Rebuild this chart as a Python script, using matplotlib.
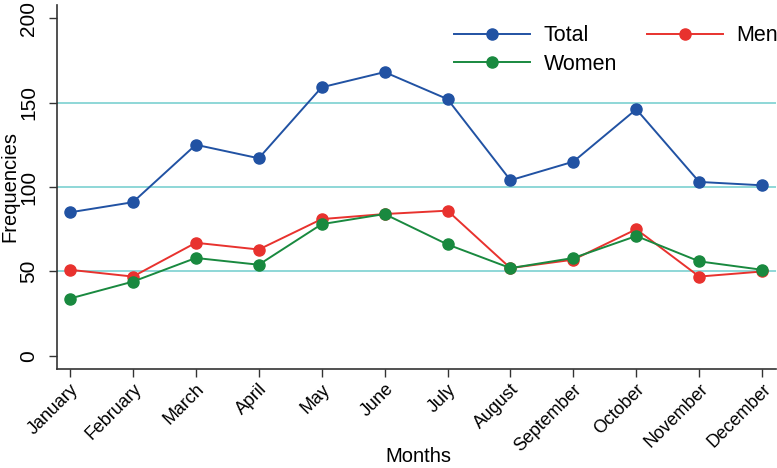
import matplotlib.pyplot as plt

plt.rcParams['font.family'] = ['Liberation Sans', 'DejaVu Sans']

meses = ["January", "February", "March", "April", "May", "June", "July",
         "August", "September", "October", "November", "December"]
total = [85, 91, 125, 117, 159, 168, 152, 104, 115, 146, 103, 101]
homens = [51, 47, 67, 63, 81, 84, 86, 52, 57, 75, 47, 50]
mulheres = [34, 44, 58, 54, 78, 84, 66, 52, 58, 71, 56, 51]
yticks = [0, 50, 100, 150, 200]

AZUL = "#2152a3"
VERMELHO = "#e8322e"
VERDE = "#19893f"
GRADE = "#86d4d4"

fig = plt.figure(figsize=(7.77, 4.68), dpi=100)
ax = fig.add_axes([57 / 777, 1 - 369 / 468, 719 / 777, 364 / 468])

x = range(len(meses))
for y in [50, 100, 150]:
    ax.axhline(y, color=GRADE, lw=1.3, zorder=0)

l_total, = ax.plot(x, total, '-o', color=AZUL, lw=1.4, ms=8, label="Total")
l_men, = ax.plot(x, homens, '-o', color=VERMELHO, lw=1.4, ms=8, label="Men")
l_women, = ax.plot(x, mulheres, '-o', color=VERDE, lw=1.4, ms=8, label="Women")

ax.set_xlim(-0.206, 11.22)
ax.set_ylim(-7.7, 207.7)
ax.set_xticks(list(x))
ax.set_xticklabels(meses, rotation=45, ha='right', rotation_mode='anchor', fontsize=12.9)
ax.set_yticks(yticks)
ax.set_yticklabels([str(v) for v in yticks], rotation=90, va='center', fontsize=15)
ax.tick_params(axis='both', direction='out', length=5.5, width=1, color='#333333')
ax.tick_params(axis='x', pad=3)
ax.tick_params(axis='y', pad=8)

for lado in ['top', 'right']:
    ax.spines[lado].set_visible(False)
for lado in ['left', 'bottom']:
    ax.spines[lado].set_color('#333333')
    ax.spines[lado].set_linewidth(1.2)

ax.set_xlabel("Months", fontsize=14.5, va='baseline')
ax.set_ylabel("Frequencies", fontsize=14.5, va='center')
ax.xaxis.set_label_coords(418 / 777, 1 - 462 / 468, transform=fig.transFigure)
ax.yaxis.set_label_coords(10 / 777, 1 - 187 / 468, transform=fig.transFigure)

ax.legend(handles=[l_total, l_women, l_men], ncol=2, frameon=False,
          loc='upper left', bbox_to_anchor=(435 / 777, 1 - 6 / 468),
          bbox_transform=fig.transFigure, fontsize=15.5,
          handlelength=3.5, handletextpad=0.65, columnspacing=1.4,
          labelspacing=0.35)

plt.savefig('out.png', dpi=100)
